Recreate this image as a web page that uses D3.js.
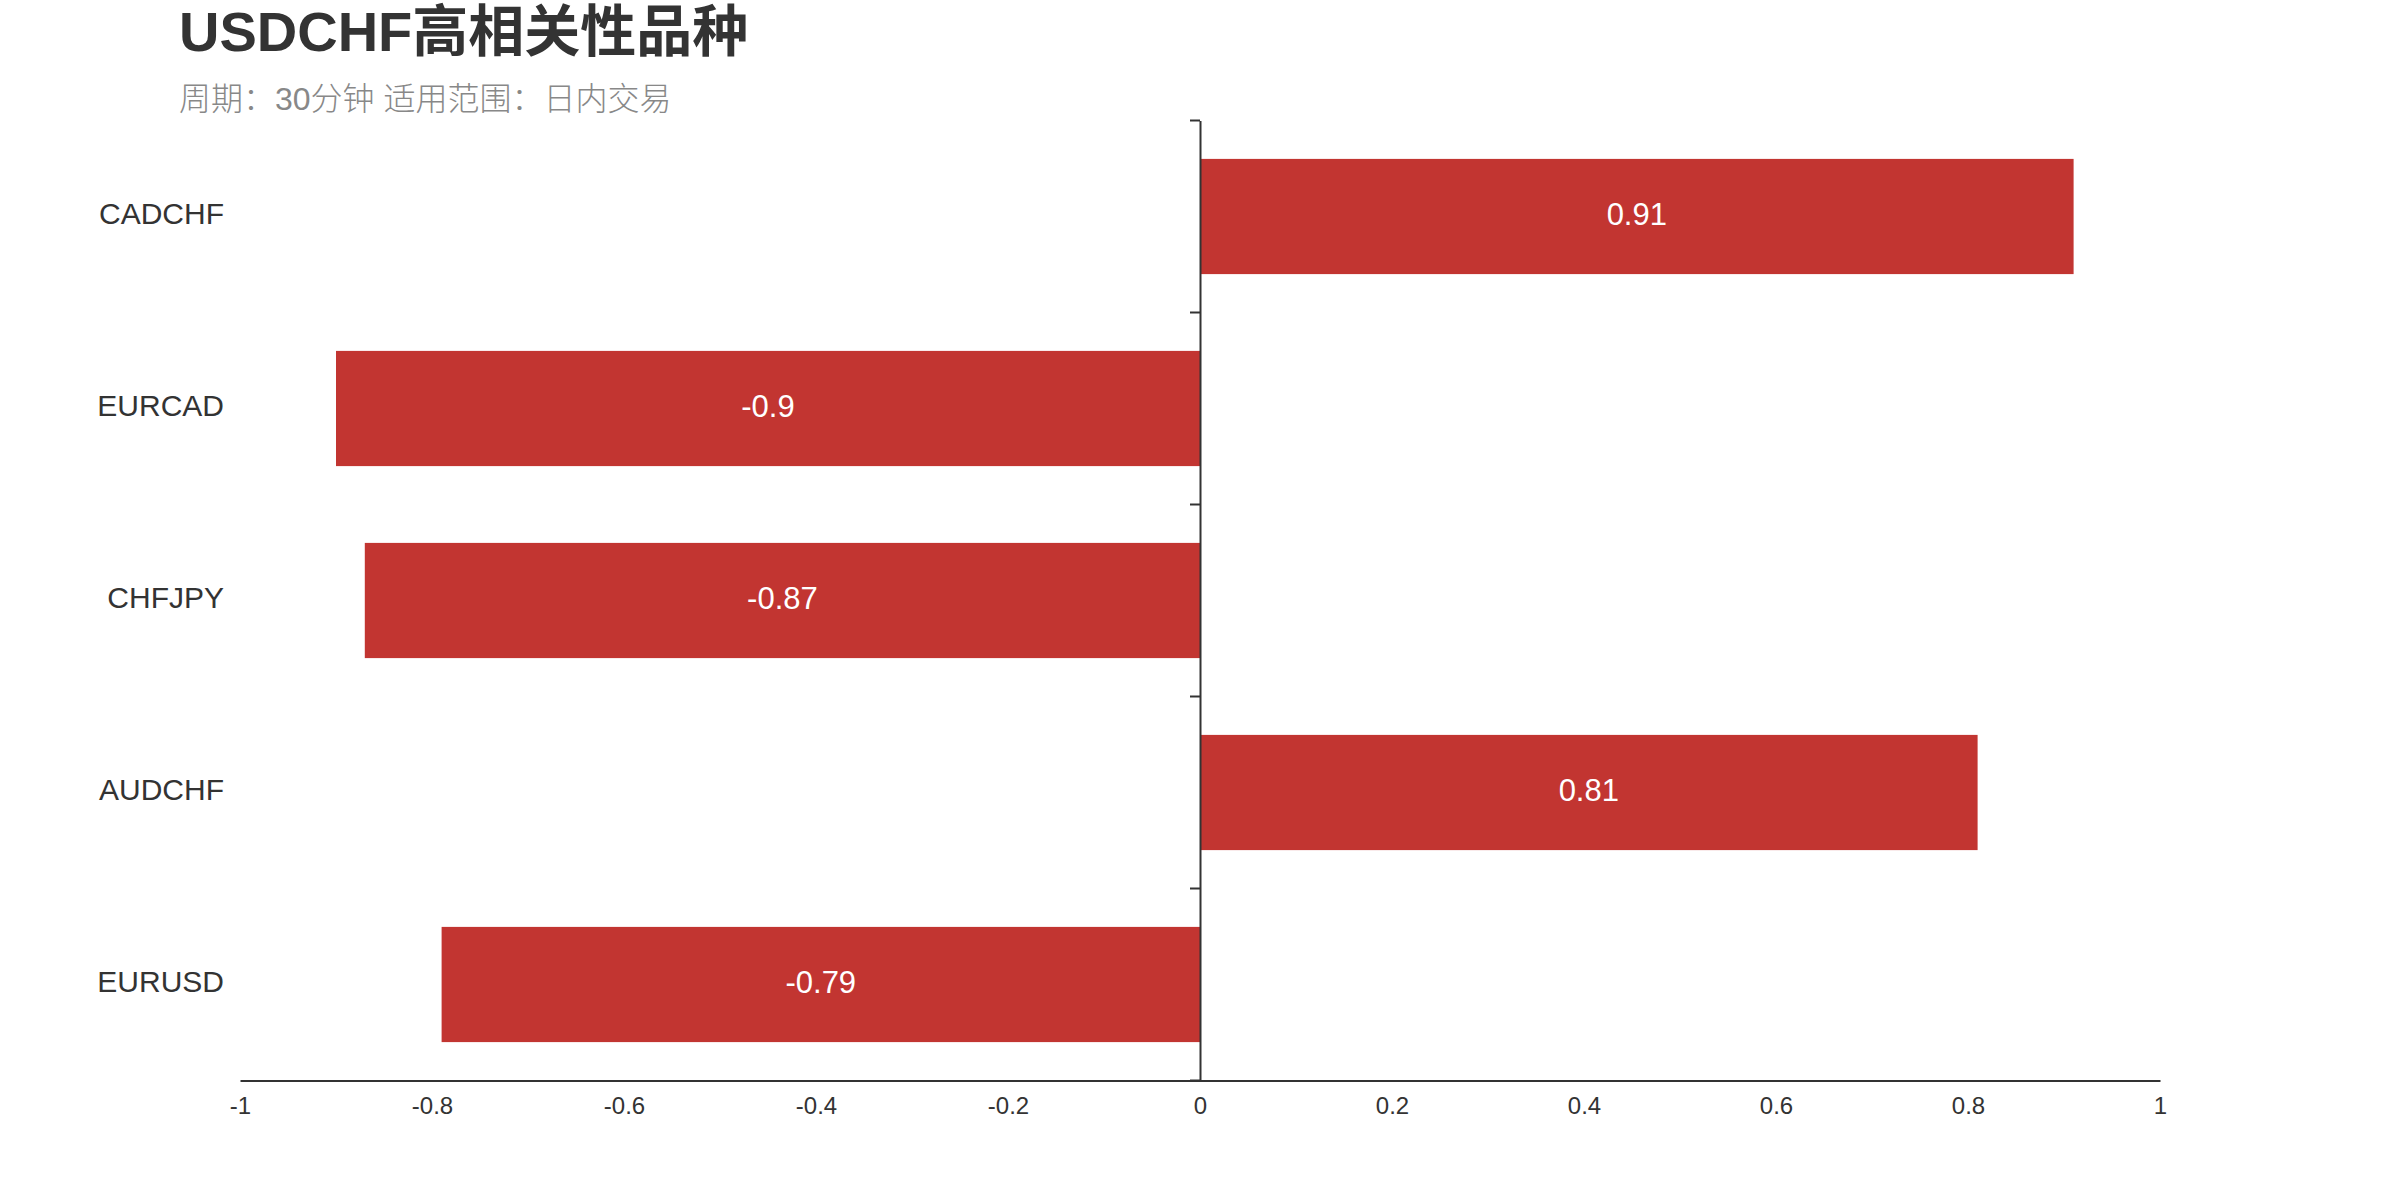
<!DOCTYPE html>
<html>
<head>
<meta charset="utf-8">
<script src="https://cdn.jsdelivr.net/npm/d3@7"></script>
<style>
  html, body { margin: 0; padding: 0; background: #fff; }
  svg { display: block; }
</style>
</head>
<body>
<svg id="chart" width="2400" height="1200"></svg>
<script>
const titleText = "USDCHF高相关性品种";
const subtitleText = "周期：30分钟 适用范围：日内交易";
const categories = ["CADCHF", "EURCAD", "CHFJPY", "AUDCHF", "EURUSD"];
const values = [0.91, -0.9, -0.87, 0.81, -0.79];
const xTicks = [-1, -0.8, -0.6, -0.4, -0.2, 0, 0.2, 0.4, 0.6, 0.8, 1];

(function () {
const svg = d3.select("#chart");
const font = "'Liberation Sans', Arial, 'Noto Sans CJK SC', sans-serif";
const gLeft = 240, gRight = 2160, gTop = 120.5, gBottom = 1080.5;

const x = d3.scaleLinear().domain([-1, 1]).range([gLeft, gRight]);
const y = d3.scaleBand().domain(categories).range([gTop, gBottom])
  .paddingInner(0.4).paddingOuter(0.2);

// title
svg.append("text").attr("x", 179).attr("y", 51)
  .attr("font-family", font).attr("font-size", 56).attr("font-weight", "bold")
  .attr("fill", "#333").text(titleText);
svg.append("text").attr("x", 179).attr("y", 110)
  .attr("font-family", font).attr("font-size", 32).attr("font-weight", 300)
  .attr("fill", "#888").text(subtitleText);

// bars
const data = categories.map((c, i) => ({ c, v: values[i] }));
svg.append("g").selectAll("rect").data(data).join("rect")
  .attr("x", d => x(Math.min(0, d.v)))
  .attr("width", d => Math.abs(x(d.v) - x(0)))
  .attr("y", d => y(d.c))
  .attr("height", y.bandwidth())
  .attr("fill", "#C23531");

// bar labels
svg.append("g").selectAll("text").data(data).join("text")
  .attr("x", d => (x(d.v) + x(0)) / 2)
  .attr("y", d => y(d.c) + y.bandwidth() / 2)
  .attr("dy", "0.26em")
  .attr("text-anchor", "middle")
  .attr("font-family", font).attr("font-size", 31)
  .attr("fill", "#fff")
  .text(d => String(d.v));

// x axis
const xAxis = svg.append("g").attr("transform", `translate(0,${gBottom})`)
  .call(d3.axisBottom(x).tickValues(xTicks).tickSize(0).tickPadding(16)
    .tickFormat(d => String(+d.toFixed(1))));
xAxis.select(".domain").attr("stroke", "#333").attr("stroke-width", 2);
xAxis.selectAll("text").attr("font-family", font).attr("font-size", 24).attr("fill", "#333");

// y axis at zero
const yAxis = svg.append("g").attr("transform", `translate(${x(0)},0)`)
  .call(d3.axisLeft(y).tickSize(0).tickFormat(""));
yAxis.select(".domain").attr("stroke", "#333").attr("stroke-width", 2);
// boundary ticks
const bounds = categories.map(c => y(c) - y.step() * y.paddingInner() / 2);
bounds[0] = gTop;
bounds.push(gBottom);
yAxis.selectAll("line.bt").data(bounds).join("line").attr("class", "bt")
  .attr("x1", -10).attr("x2", 0).attr("y1", d => d).attr("y2", d => d)
  .attr("stroke", "#333").attr("stroke-width", 2);

// category labels
svg.append("g").selectAll("text").data(categories).join("text")
  .attr("x", 224)
  .attr("y", c => y(c) + y.bandwidth() / 2)
  .attr("dy", "0.26em")
  .attr("text-anchor", "end")
  .attr("font-family", font).attr("font-size", 30)
  .attr("fill", "#333")
  .text(c => c);
})();
</script>
</body>
</html>
